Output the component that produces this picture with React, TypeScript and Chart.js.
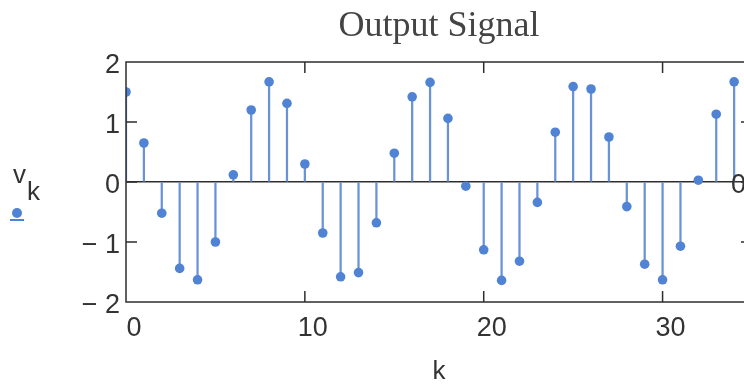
import React, { useEffect, useRef } from "react";
import { Chart, registerables } from "chart.js";

Chart.register(...registerables);

// ---- data ----
const kValues = [
  0, 1, 2, 3, 4, 5, 6, 7, 8, 9, 10, 11, 12, 13, 14, 15, 16, 17,
  18, 19, 20, 21, 22, 23, 24, 25, 26, 27, 28, 29, 30, 31, 32, 33, 34,
];
const vValues = [
  1.5, 0.65, -0.52, -1.44, -1.63, -1.0, 0.12, 1.2, 1.67, 1.31, 0.3, -0.85,
  -1.58, -1.51, -0.68, 0.48, 1.42, 1.66, 1.06, -0.07, -1.13, -1.64, -1.32,
  -0.34, 0.83, 1.59, 1.55, 0.75, -0.41, -1.37, -1.63, -1.07, 0.03, 1.13, 1.67,
];
const xTickValues = [0, 10, 20, 30];
const yTickValues = [-2, -1, 0, 1, 2];
const yTickLabels = ["\u2212 2", "\u2212 1", "0", "1", "2"];
const titleText = "Output Signal";
const xTitle = "k";

const BLUE = "#5083d3";
const STEM = "#6a93d6";
const FRAME = "#2e2e2e";
const TEXT = "#333333";
const SANS = '"Liberation Sans", Arial, sans-serif';
const SERIF = '"Liberation Serif", "Times New Roman", serif';

const framePlugin = {
  id: "frameTicks",
  afterDraw(chart: any) {
    const { ctx, chartArea: a, scales } = chart;
    const L = 11;
    ctx.save();
    ctx.strokeStyle = FRAME;
    ctx.lineWidth = 1.5;
    ctx.strokeRect(a.left, a.top, a.right - a.left, a.bottom - a.top);
    ctx.beginPath();
    scales.x.ticks.forEach((t: any) => {
      const px = scales.x.getPixelForValue(t.value);
      if (px <= a.left + 1 || px >= a.right - 1) return;
      ctx.moveTo(px, a.bottom);
      ctx.lineTo(px, a.bottom - L);
      ctx.moveTo(px, a.top);
      ctx.lineTo(px, a.top + L);
    });
    scales.y.ticks.forEach((t: any) => {
      const py = scales.y.getPixelForValue(t.value);
      if (py <= a.top + 1 || py >= a.bottom - 1) return;
      ctx.moveTo(a.left, py);
      ctx.lineTo(a.left + L, py);
      ctx.moveTo(a.right, py);
      ctx.lineTo(a.right - L, py);
    });
    ctx.stroke();
    ctx.restore();
  },
};

export default function App() {
  const ref = useRef<HTMLCanvasElement | null>(null);

  useEffect(() => {
    if (!ref.current) return;
    const chart = new Chart(ref.current, {
      type: "scatter",
      data: {
        datasets: [
          {
            type: "bar",
            data: kValues.map((k, i) => ({ x: k, y: [0, vValues[i]] })) as any,
            backgroundColor: STEM,
            borderWidth: 0,
            barThickness: 1.6,
            grouped: false,
            order: 2,
          } as any,
          {
            type: "scatter",
            data: kValues.map((k, i) => ({ x: k, y: vValues[i] })),
            backgroundColor: BLUE,
            borderWidth: 0,
            pointRadius: 4.8,
            showLine: false,
            order: 1,
          } as any,
        ],
      },
      options: {
        animation: false,
        responsive: false,
        devicePixelRatio: 1,
        layout: { padding: { left: 0, right: 8, top: 0, bottom: 0 } },
        plugins: {
          legend: { display: false },
          tooltip: { enabled: false },
          title: {
            display: true,
            text: titleText,
            fullSize: false,
            color: "#444",
            font: { family: SERIF, size: 36, weight: "normal" },
            padding: { top: 5, bottom: 13.8 },
          },
        },
        scales: {
          x: {
            type: "linear",
            min: 0,
            max: 35,
            offset: false,
            afterFit: (s: any) => {
              s.height = 83;
            },
            afterBuildTicks: (s: any) => {
              s.ticks = xTickValues.map((v) => ({ value: v }));
            },
            grid: { display: false, offset: false, drawTicks: false },
            border: { display: false },
            ticks: {
              color: TEXT,
              font: { family: SANS, size: 27 },
              padding: 10,
              labelOffset: 8,
              maxRotation: 0,
              autoSkip: false,
            },
            title: {
              display: true,
              text: xTitle,
              color: TEXT,
              font: { family: SANS, size: 26 },
              padding: { top: 0, bottom: -2 },
            },
          } as any,
          y: {
            type: "linear",
            min: -2,
            max: 2,
            afterFit: (s: any) => {
              s.width = 126;
            },
            afterBuildTicks: (s: any) => {
              s.ticks = yTickValues.map((v) => ({ value: v }));
            },
            grid: {
              drawTicks: false,
              drawOnChartArea: true,
              color: (c: any) => (c.tick && c.tick.value === 0 ? FRAME : "rgba(0,0,0,0)"),
              lineWidth: 1.5,
            },
            border: { display: false },
            ticks: {
              color: TEXT,
              font: { family: SANS, size: 27 },
              padding: 6,
              labelOffset: 4,
              callback: (v: any) => {
                const i = yTickValues.indexOf(Number(v));
                return i >= 0 ? yTickLabels[i] : "";
              },
            },
          } as any,
        },
      },
      plugins: [framePlugin],
    });
    return () => chart.destroy();
  }, []);

  return (
    <div
      style={{
        position: "fixed",
        left: 0,
        top: 0,
        width: 744,
        height: 385,
        overflow: "hidden",
        background: "#ffffff",
      }}
    >
      <canvas ref={ref} width={760} height={385} style={{ position: "absolute", left: 0, top: 0 }} />
      <span
        style={{
          position: "absolute",
          left: 13,
          top: 161,
          font: `26px ${SANS}`,
          lineHeight: "26px",
          color: TEXT,
        }}
      >
        v
      </span>
      <span
        style={{
          position: "absolute",
          left: 27,
          top: 178,
          font: `26px ${SANS}`,
          lineHeight: "26px",
          color: TEXT,
        }}
      >
        k
      </span>
      <div
        style={{
          position: "absolute",
          left: 12,
          top: 208,
          width: 10,
          height: 10,
          borderRadius: 5,
          background: BLUE,
        }}
      />
      <div
        style={{
          position: "absolute",
          left: 10,
          top: 219,
          width: 14,
          height: 2,
          background: BLUE,
        }}
      />
      <span
        style={{
          position: "absolute",
          left: 731,
          top: 171,
          font: `27px ${SANS}`,
          lineHeight: "27px",
          color: TEXT,
        }}
      >
        0
      </span>
    </div>
  );
}
